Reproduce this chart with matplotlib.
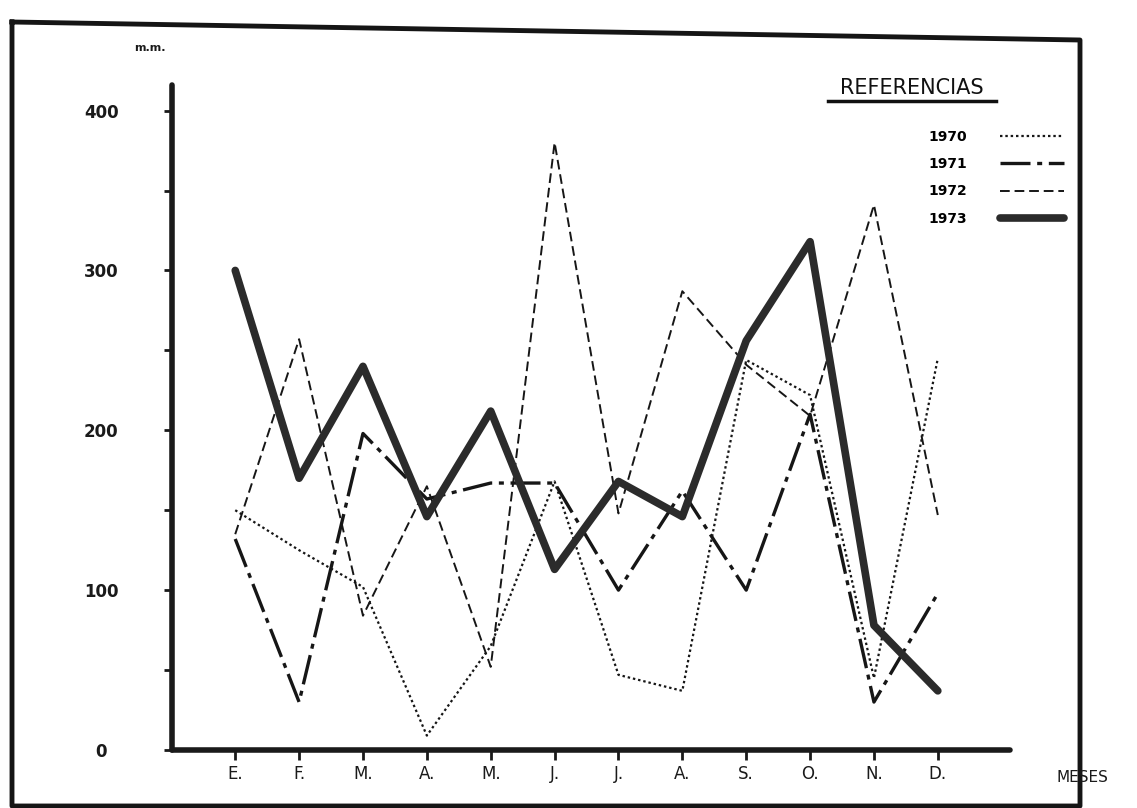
import matplotlib
matplotlib.use("Agg")

import matplotlib.pyplot as plt
from matplotlib.lines import Line2D

# ---------- Data (monthly values, m.m.) ----------
months = ["E.", "F.", "M.", "A.", "M.", "J.", "J.", "A.", "S.", "O.", "N.", "D."]
years = ["1970", "1971", "1972", "1973"]

v1970 = [150, 125, 102, 9, 65, 168, 47, 37, 244, 222, 45, 245]
v1971 = [132, 30, 198, 157, 167, 167, 100, 162, 100, 210, 30, 98]
v1972 = [135, 257, 84, 165, 52, 380, 148, 287, 241, 209, 341, 147]
v1973 = [300, 170, 240, 146, 212, 113, 168, 146, 256, 318, 78, 37]

y_ticks_major = [0, 100, 200, 300, 400]
y_ticks_minor = [50, 150, 250, 350]

# ---------- Styles ----------
ink = "#161616"
styles = {
    "1970": dict(color=ink, lw=1.6, linestyle=(0, (1.1, 1.3))),
    "1971": dict(color=ink, lw=2.4, linestyle=(0, (9, 2, 1.5, 2))),
    "1972": dict(color=ink, lw=1.4, linestyle=(0, (5, 2.5))),
    "1973": dict(color="#2b2b2b", lw=5.5, linestyle="-", solid_joinstyle="round",
                 solid_capstyle="round"),
}
series = {"1970": v1970, "1971": v1971, "1972": v1972, "1973": v1973}

plt.rcParams["font.family"] = ["DejaVu Sans"]

# ---------- Figure ----------
W, H = 1137, 808
fig = plt.figure(figsize=(W / 100, H / 100), dpi=100)
fig.patch.set_facecolor("white")

ax = fig.add_axes([172 / W, 1 - 750 / H, (1010 - 172) / W, (750 - 85) / H])
ax.set_xlim(-0.99, 12.13)
ax.set_ylim(0, 416)

x = list(range(len(months)))
for yr in years:
    ax.plot(x, series[yr], label=yr, **styles[yr])

# axes look
for side in ["top", "right"]:
    ax.spines[side].set_visible(False)
for side in ["left", "bottom"]:
    ax.spines[side].set_linewidth(4.0)
    ax.spines[side].set_color("#1a1a1a")
    ax.spines[side].set_capstyle("round")

ax.set_xticks(x)
ax.set_xticklabels(months, fontsize=12)
ax.set_yticks(y_ticks_major)
ax.set_yticks(y_ticks_minor, minor=True)
ax.set_yticklabels([str(v) for v in y_ticks_major], fontsize=12, fontweight="bold")
ax.tick_params(axis="x", length=7, width=2, direction="out", pad=4, colors="#1a1a1a")
ax.tick_params(axis="y", which="both", length=6, width=2, direction="out", pad=45,
               colors="#1a1a1a")
for lab in ax.get_yticklabels():
    lab.set_horizontalalignment("center")

fig.text(1082 / W, 1 - 777 / H, "MESES", fontsize=11, ha="center", va="center",
         color="#1a1a1a")
fig.text(150 / W, 1 - 48 / H, "m.m.", fontsize=8, fontweight="bold", ha="center",
         va="center", color="#1a1a1a")

# ---------- Legend ----------
fig.text(912 / W, 1 - 88 / H, "REFERENCIAS", fontsize=15, ha="center", va="center",
         color="#111111")
fig.add_artist(Line2D([828 / W, 996 / W], [1 - 101 / H, 1 - 101 / H],
                      transform=fig.transFigure, color="#111111", lw=2.5))

handles = [Line2D([], [], **styles[yr]) for yr in years]
leg = ax.legend(handles, years, loc="upper left", markerfirst=False, frameon=False,
                bbox_to_anchor=(928 / W, 1 - 130 / H), bbox_transform=fig.transFigure,
                fontsize=10, handlelength=4.6, labelspacing=0.95, handletextpad=2.4,
                borderpad=0, borderaxespad=0)
for t in leg.get_texts():
    t.set_fontweight("bold")

# ---------- Outer frame of the scanned sheet ----------
frame_x = [12, 1080, 1080, 12, 12]
frame_y = [22, 40, 806, 806, 22]
fig.add_artist(Line2D([p / W for p in frame_x], [1 - p / H for p in frame_y],
                      transform=fig.transFigure, color="#151515", lw=3.5))

fig.savefig("out.png", dpi=100)
